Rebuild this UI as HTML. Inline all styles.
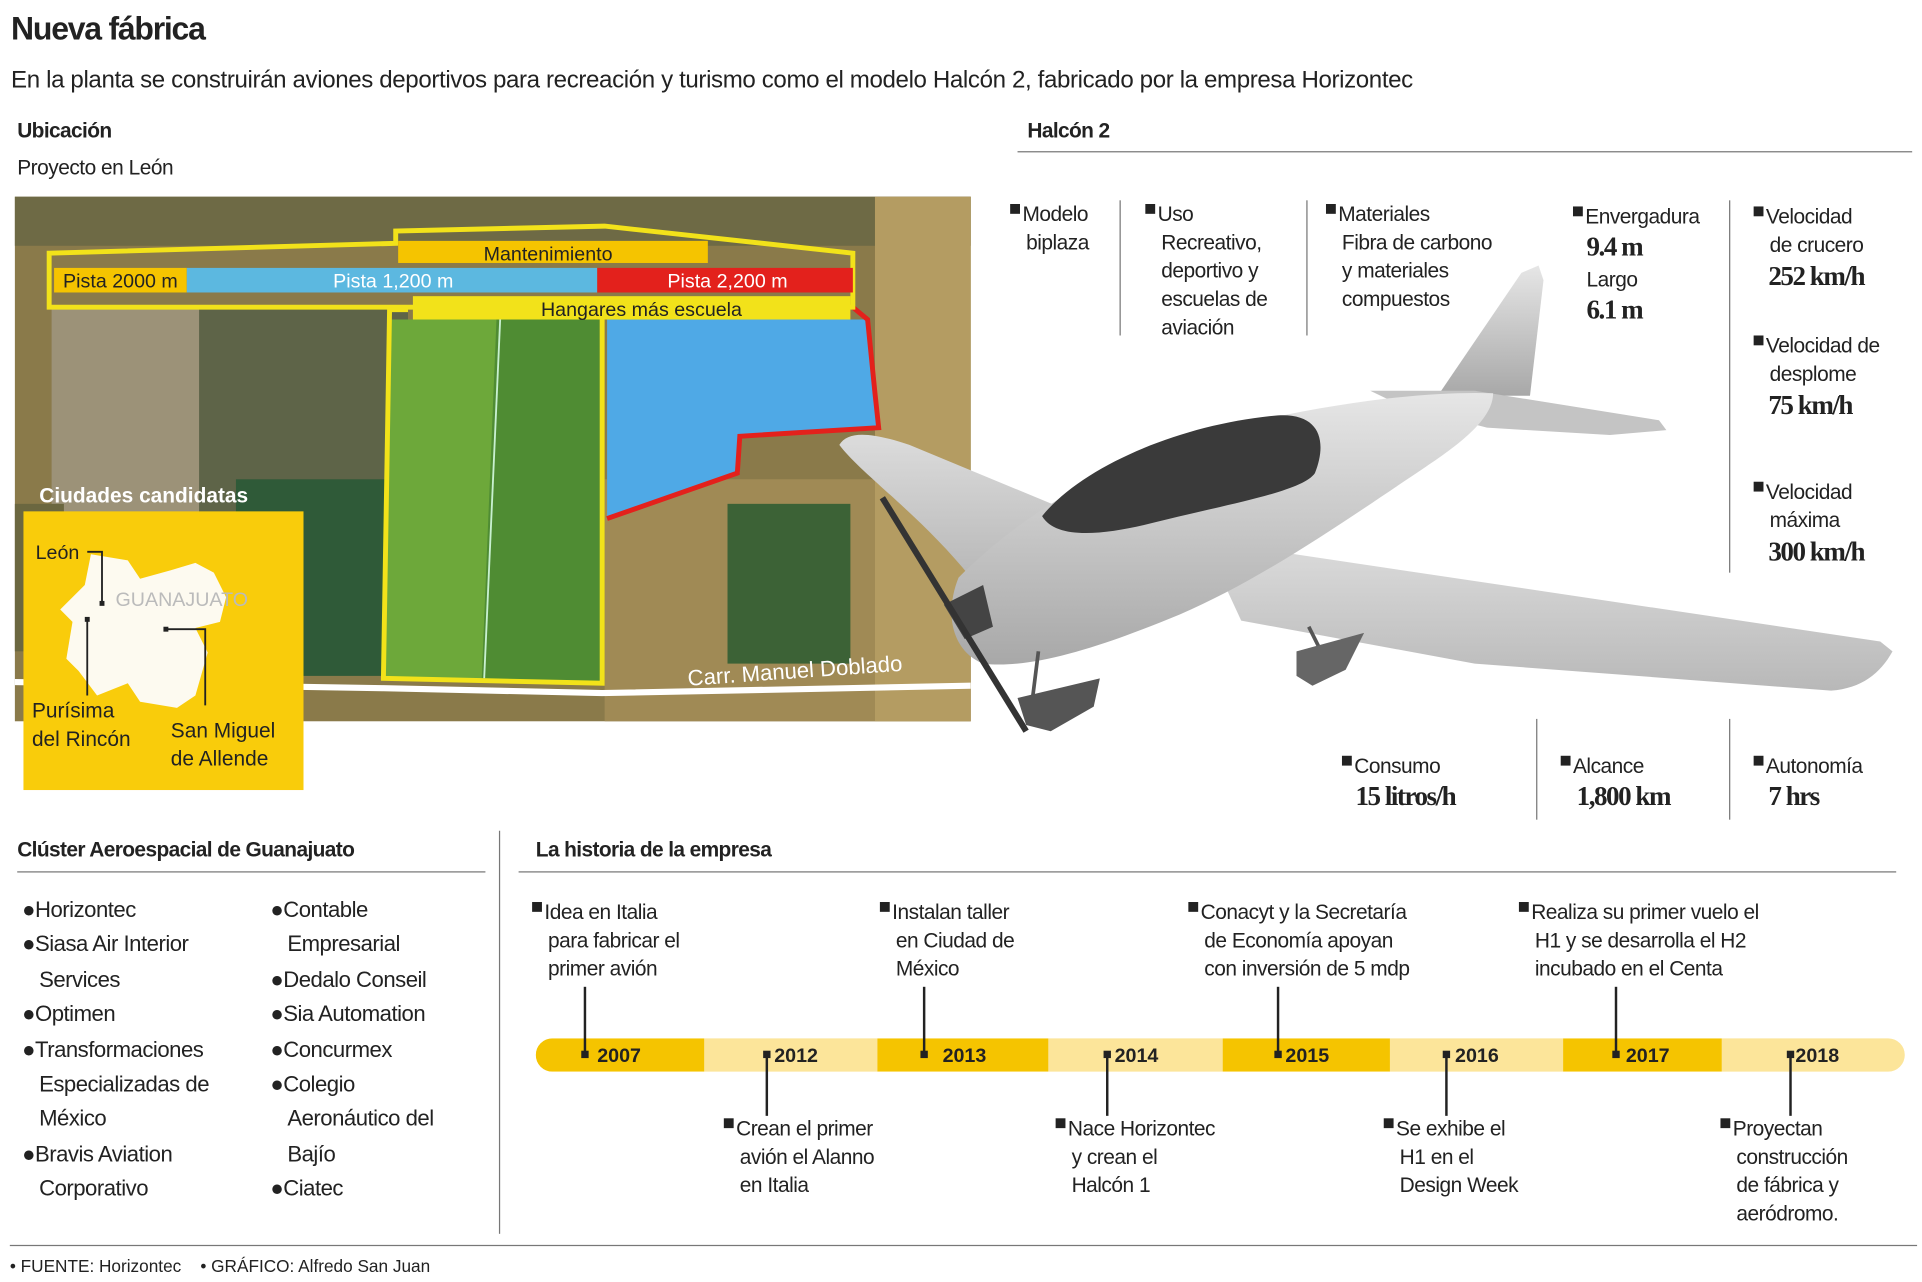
<!DOCTYPE html>
<html><head><meta charset="utf-8"><style>
*{margin:0;padding:0;box-sizing:border-box}
html,body{width:1922px;height:1281px;overflow:hidden;background:#fff}
#s{position:absolute;left:0;top:0;width:1564px;height:1043px;transform:scale(1.2289);transform-origin:0 0;font-family:"Liberation Sans",sans-serif;color:#222}
.a{position:absolute;white-space:nowrap}
.h{font-weight:bold;font-size:17px;letter-spacing:-0.5px}
.t{font-size:17px;line-height:23px;letter-spacing:-0.4px}
.v{font-family:"Liberation Serif",serif;font-weight:bold;font-size:22px;letter-spacing:-1.2px}
.sq{display:inline-block;width:8px;height:8px;background:#222;margin-right:2px;vertical-align:6px}
.vl{position:absolute;width:1px;background:#777}
.tl{font-size:17px;line-height:23px;letter-spacing:-0.4px}
.yr{position:absolute;top:851px;font-weight:bold;font-size:16px;color:#222}
.pin{position:absolute;width:2px;background:#222}
.dot{position:absolute;width:6px;height:6px;background:#222}
</style></head><body><div id="s">
<div class="a" style="left:9px;top:8px;font-size:26px;font-weight:bold;letter-spacing:-1px">Nueva fábrica</div>
<div class="a" style="left:9px;top:54px;font-size:19.6px;letter-spacing:-0.3px">En la planta se construirán aviones deportivos para recreación y turismo como el modelo Halcón 2, fabricado por la empresa Horizontec</div>
<div class="a h" style="left:14px;top:97px">Ubicación</div>
<div class="a t" style="left:14px;top:125px">Proyecto en León</div>
<div class="a h" style="left:836px;top:97px">Halcón 2</div>
<div style="position:absolute;left:828px;top:123px;width:728px;height:1px;background:#777"></div>

<svg class="a" style="left:12px;top:160px" width="778" height="427" viewBox="0 0 778 427">
<rect width="778" height="427" fill="#8a7a4a"/>
<rect x="0" y="0" width="778" height="40" fill="#6e6a45"/>
<rect x="30" y="90" width="150" height="300" fill="#9c9278"/>
<rect x="150" y="90" width="170" height="200" fill="#5e6448"/>
<rect x="180" y="230" width="150" height="160" fill="#2f5a38"/>
<rect x="0" y="250" width="40" height="120" fill="#6b6740"/>
<rect x="480" y="230" width="298" height="197" fill="#a08a55"/>
<rect x="580" y="250" width="100" height="130" fill="#3c6236"/>
<rect x="700" y="0" width="78" height="427" fill="#b49c62"/>
<polygon points="305,100 476,100 478,396 300,392" fill="#6da83a"/>
<polygon points="392,100 476,100 478,396 380,392" fill="#4f8c33"/>
<line x1="395" y1="100" x2="382" y2="392" stroke="#c8f0d0" stroke-width="1.5"/>
<polygon points="482,100 694,100 700,160 703,190 590,196 590,225 482,262" fill="#4fa9e6"/>
<polyline points="682,90 694,100 700,160 703,188 590,195 588,225 482,262" fill="none" stroke="#e3211c" stroke-width="4"/>
<polygon points="28,46 310,38 310,28 480,24 682,46 682,90 28,90" fill="none" stroke="#f2e21a" stroke-width="4"/>
<polyline points="320,92 305,92 300,392 478,396 478,100" fill="none" stroke="#f2e21a" stroke-width="4"/>
<rect x="312" y="36" width="252" height="18" fill="#f5c400"/>
<rect x="32" y="58" width="108" height="20" fill="#f5c400"/>
<rect x="140" y="58" width="334" height="20" fill="#5cb8e0"/>
<rect x="474" y="58" width="208" height="20" fill="#e3211c"/>
<rect x="324" y="81" width="356" height="19" fill="#f2e21a"/>
<text x="434" y="52" font-size="16" text-anchor="middle" fill="#222">Mantenimiento</text>
<text x="86" y="74" font-size="16" text-anchor="middle" fill="#222">Pista 2000 m</text>
<text x="308" y="74" font-size="16" text-anchor="middle" fill="#fff">Pista 1,200 m</text>
<text x="580" y="74" font-size="16" text-anchor="middle" fill="#fff">Pista 2,200 m</text>
<text x="510" y="97" font-size="16" text-anchor="middle" fill="#222">Hangares más escuela</text>
<polyline points="0,395 300,400 478,404 778,398" fill="none" stroke="#fff" stroke-width="5"/>
<text x="548" y="398" font-size="18" fill="#fff" transform="rotate(-4 548 398)">Carr. Manuel Doblado</text>
<text x="20" y="249" font-size="17" font-weight="bold" fill="#fff">Ciudades candidatas</text>
</svg>
<svg class="a" style="left:19px;top:416px" width="228" height="227">
<rect width="228" height="227" fill="#f9cc0b"/>
<path d="M55,35 L85,40 95,55 120,48 140,42 155,50 165,70 160,90 140,95 150,115 140,150 125,160 95,155 85,140 60,150 45,130 35,120 40,90 30,80 50,60 Z" fill="#fdfaf0"/>
<text x="75" y="77" font-size="16" fill="#bbb">GUANAJUATO</text>
<text x="10" y="39" font-size="16" fill="#222">León</text>
<polyline points="52,33 64,33 64,75" fill="none" stroke="#222" stroke-width="1.5"/><rect x="62" y="73" width="4" height="4" fill="#222"/>
<polyline points="52,88 52,150" fill="none" stroke="#222" stroke-width="1.5"/><rect x="50" y="86" width="4" height="4" fill="#222"/>
<polyline points="117,96 148,96 148,158" fill="none" stroke="#222" stroke-width="1.5"/><rect x="114" y="94" width="4" height="4" fill="#222"/>
<text x="7" y="168" font-size="17" fill="#222">Purísima</text>
<text x="7" y="191" font-size="17" fill="#222">del Rincón</text>
<text x="120" y="184" font-size="17" fill="#222">San Miguel</text>
<text x="120" y="207" font-size="17" fill="#222">de Allende</text>
</svg>

<svg class="a" style="left:0;top:0" width="1564" height="1043">
<defs>
<linearGradient id="g" x1="0" y1="0" x2="0" y2="1"><stop offset="0" stop-color="#e6e6e6"/><stop offset="1" stop-color="#a8a8a8"/></linearGradient>
<linearGradient id="w" x1="0" y1="0" x2="0" y2="1"><stop offset="0" stop-color="#dcdcdc"/><stop offset="1" stop-color="#b8b8b8"/></linearGradient>
</defs>
<polygon points="1170,322 1238,222 1252,216 1256,228 1245,322" fill="url(#g)"/>
<polygon points="1115,318 1200,318 1350,342 1356,350 1310,354 1210,348 1140,330" fill="#c4c4c4"/>
<path d="M683,362 C690,350 710,352 740,362 L880,420 L860,470 L790,470 C750,420 700,385 683,362 Z" fill="url(#w)"/>
<path d="M980,440 L1530,522 L1540,530 C1530,548 1515,560 1490,562 L1200,540 L1010,505 Z" fill="url(#w)"/>
<path d="M780,470 C830,420 900,375 1000,348 C1080,328 1160,318 1215,320 C1215,340 1190,360 1160,380 C1100,420 1030,470 960,500 C900,525 840,545 800,540 C775,530 768,500 780,470 Z" fill="url(#g)"/>
<path d="M848,420 C880,380 960,345 1040,338 C1075,336 1080,360 1070,385 C1060,400 1000,410 940,425 C900,435 860,440 848,420 Z" fill="#3a3a3a"/>
<path d="M768,492 L800,476 808,510 785,520 Z" fill="#444"/>
<line x1="718" y1="405" x2="835" y2="595" stroke="#333" stroke-width="5"/>
<line x1="845" y1="530" x2="840" y2="570" stroke="#555" stroke-width="3"/>
<path d="M828,568 L895,552 890,575 855,595 835,590 Z" fill="#555"/>
<line x1="1065" y1="510" x2="1075" y2="530" stroke="#555" stroke-width="3"/>
<path d="M1055,530 L1110,515 1095,545 1068,558 1055,550 Z" fill="#666"/>
</svg>

<div class="a t" style="left:822px;top:163px"><span class="sq"></span>Modelo<br>&nbsp;&nbsp;&nbsp;biplaza</div>
<div class="vl" style="left:911px;top:163px;height:110px"></div>
<div class="a t" style="left:932px;top:163px"><span class="sq"></span>Uso<br>&nbsp;&nbsp;&nbsp;Recreativo,<br>&nbsp;&nbsp;&nbsp;deportivo y<br>&nbsp;&nbsp;&nbsp;escuelas de<br>&nbsp;&nbsp;&nbsp;aviación</div>
<div class="vl" style="left:1063px;top:163px;height:110px"></div>
<div class="a t" style="left:1079px;top:163px"><span class="sq"></span>Materiales<br>&nbsp;&nbsp;&nbsp;Fibra de carbono<br>&nbsp;&nbsp;&nbsp;y materiales<br>&nbsp;&nbsp;&nbsp;compuestos</div>
<div class="a t" style="left:1280px;top:165px"><span class="sq"></span>Envergadura</div>
<div class="a v" style="left:1291px;top:188px">9.4 m</div>
<div class="a t" style="left:1291px;top:216px">Largo</div>
<div class="a v" style="left:1291px;top:239px">6.1 m</div>
<div class="vl" style="left:1407px;top:163px;height:303px"></div>
<div class="a t" style="left:1427px;top:165px"><span class="sq"></span>Velocidad<br>&nbsp;&nbsp;&nbsp;de crucero</div>
<div class="a v" style="left:1439px;top:212px">252 km/h</div>
<div class="a t" style="left:1427px;top:270px"><span class="sq"></span>Velocidad de<br>&nbsp;&nbsp;&nbsp;desplome</div>
<div class="a v" style="left:1439px;top:317px">75 km/h</div>
<div class="a t" style="left:1427px;top:389px"><span class="sq"></span>Velocidad<br>&nbsp;&nbsp;&nbsp;máxima</div>
<div class="a v" style="left:1439px;top:436px">300 km/h</div>
<div class="a t" style="left:1092px;top:612px"><span class="sq"></span>Consumo</div>
<div class="a v" style="left:1103px;top:635px">15 litros/h</div>
<div class="vl" style="left:1250px;top:585px;height:82px"></div>
<div class="a t" style="left:1270px;top:612px"><span class="sq"></span>Alcance</div>
<div class="a v" style="left:1283px;top:635px">1,800 km</div>
<div class="vl" style="left:1407px;top:585px;height:82px"></div>
<div class="a t" style="left:1427px;top:612px"><span class="sq"></span>Autonomía</div>
<div class="a v" style="left:1439px;top:635px">7 hrs</div>

<div class="a h" style="left:14px;top:682px">Clúster Aeroespacial de Guanajuato</div>
<div style="position:absolute;left:14px;top:709px;width:381px;height:1px;background:#777"></div>
<div class="vl" style="left:406px;top:676px;height:328px"></div>
<div class="a" style="left:18px;top:726px;font-size:18px;line-height:28.4px;letter-spacing:-0.4px">●Horizontec<br>●Siasa Air Interior<br>&nbsp;&nbsp;&nbsp;Services<br>●Optimen<br>●Transformaciones<br>&nbsp;&nbsp;&nbsp;Especializadas de<br>&nbsp;&nbsp;&nbsp;México<br>●Bravis Aviation<br>&nbsp;&nbsp;&nbsp;Corporativo</div>
<div class="a" style="left:220px;top:726px;font-size:18px;line-height:28.4px;letter-spacing:-0.4px">●Contable<br>&nbsp;&nbsp;&nbsp;Empresarial<br>●Dedalo Conseil<br>●Sia Automation<br>●Concurmex<br>●Colegio<br>&nbsp;&nbsp;&nbsp;Aeronáutico del<br>&nbsp;&nbsp;&nbsp;Bajío<br>●Ciatec</div>

<div class="a h" style="left:436px;top:682px">La historia de la empresa</div>
<div style="position:absolute;left:422px;top:709px;width:1121px;height:1px;background:#777"></div>
<div style="position:absolute;left:436px;top:845px;width:1114px;height:27px;border-radius:14px;overflow:hidden;background:#fce59a">
<div style="position:absolute;left:0;width:137px;height:27px;background:#f5c400"></div>
<div style="position:absolute;left:278px;width:139px;height:27px;background:#f5c400"></div>
<div style="position:absolute;left:559px;width:136px;height:27px;background:#f5c400"></div>
<div style="position:absolute;left:836px;width:129px;height:27px;background:#f5c400"></div>
</div>
<div class="yr" style="left:486px">2007</div><div class="yr" style="left:630px">2012</div><div class="yr" style="left:767px">2013</div><div class="yr" style="left:907px">2014</div><div class="yr" style="left:1046px">2015</div><div class="yr" style="left:1184px">2016</div><div class="yr" style="left:1323px">2017</div><div class="yr" style="left:1461px">2018</div>
<div class="dot" style="left:473px;top:855px"></div><div class="pin" style="left:475px;top:803px;height:55px"></div>
<div class="dot" style="left:621px;top:855px"></div><div class="pin" style="left:623px;top:858px;height:50px"></div>
<div class="dot" style="left:749px;top:855px"></div><div class="pin" style="left:751px;top:803px;height:55px"></div>
<div class="dot" style="left:898px;top:855px"></div><div class="pin" style="left:900px;top:858px;height:50px"></div>
<div class="dot" style="left:1037px;top:855px"></div><div class="pin" style="left:1039px;top:803px;height:55px"></div>
<div class="dot" style="left:1174px;top:855px"></div><div class="pin" style="left:1176px;top:858px;height:50px"></div>
<div class="dot" style="left:1312px;top:855px"></div><div class="pin" style="left:1314px;top:803px;height:55px"></div>
<div class="dot" style="left:1454px;top:855px"></div><div class="pin" style="left:1456px;top:858px;height:50px"></div>
<div class="a tl" style="left:433px;top:731px"><span class="sq"></span>Idea en Italia<br>&nbsp;&nbsp;&nbsp;para fabricar el<br>&nbsp;&nbsp;&nbsp;primer avión</div>
<div class="a tl" style="left:716px;top:731px"><span class="sq"></span>Instalan taller<br>&nbsp;&nbsp;&nbsp;en Ciudad de<br>&nbsp;&nbsp;&nbsp;México</div>
<div class="a tl" style="left:967px;top:731px"><span class="sq"></span>Conacyt y la Secretaría<br>&nbsp;&nbsp;&nbsp;de Economía apoyan<br>&nbsp;&nbsp;&nbsp;con inversión de 5 mdp</div>
<div class="a tl" style="left:1236px;top:731px"><span class="sq"></span>Realiza su primer vuelo el<br>&nbsp;&nbsp;&nbsp;H1 y se desarrolla el H2<br>&nbsp;&nbsp;&nbsp;incubado en el Centa</div>
<div class="a tl" style="left:589px;top:907px"><span class="sq"></span>Crean el primer<br>&nbsp;&nbsp;&nbsp;avión el Alanno<br>&nbsp;&nbsp;&nbsp;en Italia</div>
<div class="a tl" style="left:859px;top:907px"><span class="sq"></span>Nace Horizontec<br>&nbsp;&nbsp;&nbsp;y crean el<br>&nbsp;&nbsp;&nbsp;Halcón 1</div>
<div class="a tl" style="left:1126px;top:907px"><span class="sq"></span>Se exhibe el<br>&nbsp;&nbsp;&nbsp;H1 en el<br>&nbsp;&nbsp;&nbsp;Design Week</div>
<div class="a tl" style="left:1400px;top:907px"><span class="sq"></span>Proyectan<br>&nbsp;&nbsp;&nbsp;construcción<br>&nbsp;&nbsp;&nbsp;de fábrica y<br>&nbsp;&nbsp;&nbsp;aeródromo.</div>

<div style="position:absolute;left:8px;top:1013px;width:1552px;height:1px;background:#777"></div>
<div class="a" style="left:8px;top:1022px;font-size:14px">• FUENTE: Horizontec &nbsp;&nbsp;&nbsp;• GRÁFICO: Alfredo San Juan</div>
</div></body></html>
